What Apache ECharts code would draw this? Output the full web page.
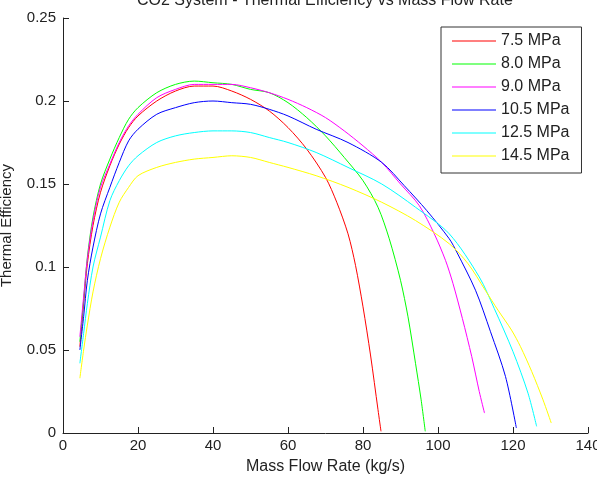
<!DOCTYPE html>
<html>
<head>
<meta charset="utf-8">
<script src="https://cdn.jsdelivr.net/npm/echarts@6/dist/echarts.min.js"></script>
<style>
  html, body { margin: 0; padding: 0; background: #fff; }
  #chart { width: 597px; height: 482px; }
</style>
</head>
<body>
<div id="chart"></div>
<script>
// data
var seriesNames = ['7.5 MPa', '8.0 MPa', '9.0 MPa', '10.5 MPa', '12.5 MPa', '14.5 MPa'];

var flow75 = [4.5, 5.5, 6.5, 8, 10, 12.5, 15, 17.5, 20, 25, 30, 35, 40, 45, 50, 55, 60, 65, 70, 73, 76, 78, 80, 82, 84, 84.8];
var eff75  = [0.052, 0.078, 0.102, 0.125, 0.145, 0.161, 0.174, 0.184, 0.191, 0.200, 0.206, 0.209, 0.209, 0.206, 0.201, 0.194, 0.184, 0.171, 0.154, 0.139, 0.120, 0.101, 0.076, 0.047, 0.014, 0.001];

var flow80 = [4.5, 5.5, 6.5, 8, 10, 12.5, 15, 17.5, 20, 25, 30, 35, 40, 45, 50, 55, 60, 65, 70, 75, 80, 84, 87, 90, 92, 94, 95.5, 96.6];
var eff80  = [0.055, 0.080, 0.106, 0.130, 0.150, 0.165, 0.178, 0.189, 0.196, 0.205, 0.210, 0.212, 0.211, 0.210, 0.207, 0.205, 0.199, 0.190, 0.179, 0.166, 0.152, 0.136, 0.117, 0.092, 0.070, 0.042, 0.020, 0.001];

var flow90 = [4.5, 5.5, 6.5, 8, 10, 12.5, 15, 17.5, 20, 25, 30, 35, 40, 45, 50, 55, 60, 65, 70, 75, 80, 85, 90, 95, 99, 102, 104, 106.5, 109, 111, 112.4];
var eff90  = [0.058, 0.082, 0.105, 0.128, 0.148, 0.162, 0.175, 0.185, 0.192, 0.202, 0.207, 0.210, 0.210, 0.210, 0.208, 0.205, 0.201, 0.196, 0.190, 0.182, 0.173, 0.163, 0.150, 0.137, 0.120, 0.104, 0.090, 0.069, 0.046, 0.025, 0.012];

var flow105 = [4.5, 5.5, 6.5, 8, 10, 12.5, 15, 17.5, 20, 25, 30, 35, 40, 45, 50, 55, 60, 67.5, 76, 85, 91, 97, 103, 105, 110, 114, 118, 120.9];
var eff105  = [0.050, 0.070, 0.092, 0.112, 0.132, 0.148, 0.163, 0.176, 0.183, 0.192, 0.196, 0.199, 0.200, 0.199, 0.198, 0.195, 0.191, 0.183, 0.175, 0.163, 0.149, 0.134, 0.117, 0.109, 0.086, 0.061, 0.034, 0.003];

var flow125 = [4.5, 5.5, 6.5, 8, 10, 12.5, 15, 17.5, 20, 25, 30, 35, 40, 45, 50, 55, 60, 67.5, 76, 85, 94, 103, 111, 115, 120, 124, 126.3];
var eff125  = [0.042, 0.060, 0.078, 0.100, 0.118, 0.140, 0.152, 0.161, 0.167, 0.175, 0.179, 0.181, 0.182, 0.182, 0.181, 0.178, 0.175, 0.169, 0.160, 0.150, 0.136, 0.120, 0.094, 0.075, 0.049, 0.024, 0.004];

var flow145 = [4.5, 5.5, 6.5, 8, 10, 12.5, 15, 17.5, 20, 25, 30, 35, 40, 45, 50, 55, 60, 67.5, 76, 85, 94, 103, 108, 112.6, 116, 119.6, 122, 125, 128, 130.2];
var eff145  = [0.033, 0.050, 0.065, 0.085, 0.105, 0.124, 0.139, 0.148, 0.155, 0.160, 0.163, 0.165, 0.166, 0.167, 0.166, 0.163, 0.160, 0.155, 0.148, 0.139, 0.128, 0.114, 0.102, 0.086, 0.074, 0.062, 0.052, 0.037, 0.020, 0.006];

var xTicks = [0, 20, 40, 60, 80, 100, 120, 140];
var yTicks = [0, 0.05, 0.1, 0.15, 0.2, 0.25];

var flows = [flow75, flow80, flow90, flow105, flow125, flow145];
var effs = [eff75, eff80, eff90, eff105, eff125, eff145];
var colors = ['#ff0000', '#00ff00', '#ff00ff', '#0000ff', '#00ffff', '#ffff00'];

function pairs(xs, ys) {
  var out = [];
  for (var i = 0; i < xs.length; i++) out.push([xs[i], ys[i]]);
  return out;
}

var font = 'Liberation Sans, Arial, sans-serif';

var series = [];
for (var i = 0; i < seriesNames.length; i++) {
  series.push({
    name: seriesNames[i],
    type: 'line',
    data: pairs(flows[i], effs[i]),
    symbol: 'none',
    smooth: 0.3,
    lineStyle: { color: colors[i], width: 1 },
    itemStyle: { color: colors[i] }
  });
}

var myChart = echarts.init(document.getElementById('chart'));
myChart.setOption({
  animation: false,
  backgroundColor: '#fff',
  title: {
    text: 'CO2 System - Thermal Efficiency vs Mass Flow Rate',
    left: 132,
    top: -12,
    textStyle: { fontFamily: font, fontSize: 16, fontWeight: 'normal', color: '#222' }
  },
  grid: { left: 63, right: 9, top: 18, bottom: 49, outerBoundsMode: 'none' },
  legend: {
    orient: 'vertical',
    left: 441,
    top: 27,
    padding: [6, 12, 9, 11],
    itemWidth: 44,
    itemHeight: 14,
    itemGap: 7,
    icon: 'path://M0,0H100V2.4H0Z',
    borderColor: '#333',
    borderWidth: 1,
    backgroundColor: '#fff',
    textStyle: { fontFamily: font, fontSize: 16, lineHeight: 16, color: '#222' },
    data: seriesNames
  },
  xAxis: {
    type: 'value',
    min: xTicks[0],
    max: xTicks[xTicks.length - 1],
    interval: 20,
    name: 'Mass Flow Rate (kg/s)',
    nameLocation: 'middle',
    nameGap: 26,
    nameTextStyle: { fontFamily: font, fontSize: 16, color: '#222' },
    axisLine: { lineStyle: { color: '#222', width: 1 } },
    axisTick: { inside: true, length: 6, lineStyle: { color: '#222' } },
    axisLabel: { fontFamily: font, fontSize: 15, color: '#222', margin: 5 },
    splitLine: { show: false }
  },
  yAxis: {
    type: 'value',
    min: yTicks[0],
    max: yTicks[yTicks.length - 1],
    interval: 0.05,
    name: 'Thermal Efficiency',
    nameLocation: 'middle',
    nameGap: 49,
    nameTextStyle: { fontFamily: font, fontSize: 15, color: '#222' },
    axisLine: { show: true, lineStyle: { color: '#222', width: 1 } },
    axisTick: { show: true, inside: true, length: 6, lineStyle: { color: '#222' } },
    axisLabel: { fontFamily: font, fontSize: 15, color: '#222', margin: 7 },
    splitLine: { show: false }
  },
  series: series
});
</script>
</body>
</html>
